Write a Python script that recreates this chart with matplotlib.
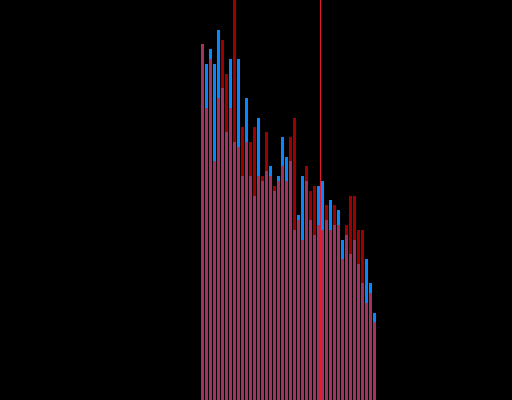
import numpy as np
import matplotlib
matplotlib.use("Agg")
import matplotlib.pyplot as plt

# Two overlapping series (values on a 0-100 scale)
series_blue = [89, 84, 87.75, 84, 92.5, 78, 67, 85.25, 64.5, 85.25, 56, 75.5, 56, 51,
               70.5, 54.75, 57.25, 58.5, 52.25, 56, 65.75, 60.75, 59.75, 42.5, 46.25, 56,
               54.75, 45, 41.25, 53.5, 54.75, 45, 50, 43.75, 47.5, 40, 41.25, 36.5, 40,
               34, 29.25, 35.25, 29.25, 21.75]
series_red = [89, 73, 85.25, 59.75, 75.5, 90, 81.5, 73, 105, 63.25, 68.25, 64.5, 64.5,
              68.25, 56, 56, 67, 56, 53.5, 54.75, 58.5, 54.75, 65.75, 70.5, 45, 40, 58.5,
              52.25, 53.5, 43.75, 42.5, 48.75, 42.5, 48.75, 43.75, 35.25, 43.75, 51, 51,
              42.5, 42.5, 24.25, 26.75, 19.5]
marker_position = 29.5

x = np.arange(len(series_blue))

fig = plt.figure(figsize=(5.12, 4.0), dpi=100, facecolor="black")
ax = fig.add_axes([0, 0, 1, 1])
ax.set_facecolor("black")

ax.bar(x, series_blue, width=0.75, color="#0A86FF", linewidth=0)
ax.bar(x, series_red, width=0.75, color="#FF0000", alpha=0.62, linewidth=0)
ax.axvspan(marker_position - 0.125, marker_position + 0.125, color="#E81828",
           linewidth=0, zorder=5)

ax.set_xlim(-50.625, 77.375)
ax.set_ylim(0, 100)
ax.axis("off")

fig.savefig("out.png", dpi=100, facecolor="black")
